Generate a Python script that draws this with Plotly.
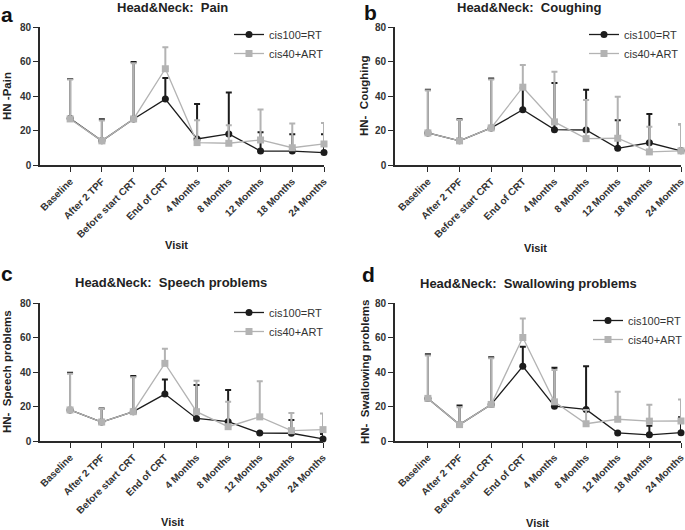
import plotly.graph_objects as go

visits = ["Baseline", "After 2 TPF", "Before start CRT", "End of CRT", "4 Months",
          "8 Months", "12 Months", "18 Months", "24 Months"]
series_names = ["cis100=RT", "cis40+ART"]

# Panel a: Pain
pain_rt = [27, 14, 26.7, 38.2, 15.1, 18, 8.1, 8.1, 7.2]
pain_rt_upper = [49.8, 26.5, 59.7, 50.4, 35.4, 42, 19, 17.8, 17.8]
pain_art = [26.7, 14, 26.7, 55.8, 13, 12.6, 14.5, 10, 12.2]
pain_art_upper = [49.5, 25.8, 59, 68.2, 26, 23, 32.2, 24, 24.4]

# Panel b: Coughing
cough_rt = [18.6, 14, 21.5, 32, 20.5, 20.3, 9.7, 12.9, 8.2]
cough_rt_upper = [43.6, 26.5, 50.2, 44.5, 47.6, 43.6, 26, 29.6, 23.6]
cough_art = [18.6, 14, 21.5, 45.1, 25, 15.3, 15.5, 7.6, 8.2]
cough_art_upper = [43.2, 26.1, 49.6, 57.9, 54, 37.7, 39.6, 22.2, 23.8]

# Panel c: Speech problems
speech_rt = [18, 11, 17, 27.2, 13.1, 11.2, 4.6, 4.5, 1.2]
speech_rt_upper = [39.6, 18.9, 37.7, 35.7, 32.5, 29.6, 4.6, 12.2, 4]
speech_art = [18, 11, 17, 45, 17, 8.3, 14, 6, 6.6]
speech_art_upper = [39, 18.5, 37, 53.5, 35, 22.8, 34.6, 16.2, 16]

# Panel d: Swallowing problems
swallow_rt = [24.7, 9.5, 21.2, 43.3, 20.2, 18.3, 4.7, 3.6, 4.8]
swallow_rt_upper = [50.3, 20.6, 48.5, 54.6, 42.5, 43.3, 4.7, 8.9, 13.7]
swallow_art = [24.7, 9.5, 21.2, 60, 22.7, 10, 12.6, 11.5, 11.6]
swallow_art_upper = [49.5, 19.5, 48, 71, 41.2, 18, 28.5, 21, 24]

panel_letters = ["a", "b", "c", "d"]
panel_titles = ["Head&Neck:  Pain", "Head&Neck:  Coughing",
                "Head&Neck:  Speech problems", "Head&Neck:  Swallowing problems"]
y_titles = ["HN -Pain", "HN-  Coughing", "HN-  Speech problems", "HN-  Swallowing problems"]
x_title = "Visit"
y_ticks = [0, 20, 40, 60, 80]

panels = [
    (pain_rt, pain_rt_upper, pain_art, pain_art_upper),
    (cough_rt, cough_rt_upper, cough_art, cough_art_upper),
    (speech_rt, speech_rt_upper, speech_art, speech_art_upper),
    (swallow_rt, swallow_rt_upper, swallow_art, swallow_art_upper),
]

W, H = 685, 530
BLACK = "#1c1c1c"
GRAY = "#b3b3b3"
AXC = "#2a2a2a"
FONT = "Liberation Sans, Arial, sans-serif"

# pixel layout per panel: (x_left, x_right, y_top, y_bottom, xrange_start)
geom = [
    (40, 324, 27, 165, -0.95),
    (395, 681, 27, 165, -1.04),
    (40, 323, 303, 441, -0.95),
    (395, 681, 303, 441, -1.04),
]
legend_pos = [(229, 20), (584, 20), (229, 298), (588, 306)]
letter_pos = [(7, 15), (370, 13), (7, 273), (368, 274)]
title_pos = [(172, 8), (529, 8), (171, 282), (528, 283)]
ytitle_pos = [(7, 96), (364, 96), (7, 372), (365, 372)]
xtitle_pos = [(176, 245), (535, 248), (172, 522), (537, 523)]


def px(x):
    return x / W


def py(y):
    return 1 - y / H


fig = go.Figure()
annotations = []
for i, (rt, rt_up, art, art_up) in enumerate(panels):
    n = i + 1
    xa = "x" if n == 1 else f"x{n}"
    ya = "y" if n == 1 else f"y{n}"
    leg = "legend" if n == 1 else f"legend{n}"
    for vals, ups, name, color, sym in [
        (rt, rt_up, series_names[0], BLACK, "circle"),
        (art, art_up, series_names[1], GRAY, "square"),
    ]:
        fig.add_trace(go.Scatter(
            x=visits, y=vals, name=name, mode="lines+markers",
            line=dict(color=color, width=1.3),
            marker=dict(color=color, size=7, symbol=sym),
            error_y=dict(type="data", symmetric=False,
                         array=[u - v for u, v in zip(ups, vals)],
                         arrayminus=[0] * len(vals),
                         color=color, thickness=2, width=3),
            xaxis=xa, yaxis=ya, legend=leg, cliponaxis=False,
        ))
    xl, xr, yt, yb, x0 = geom[i]
    axis_common = dict(showline=True, linecolor=AXC, linewidth=1.6, ticks="outside",
                       tickcolor=AXC, tickwidth=1.4, ticklen=5, showgrid=False, zeroline=False,
                       automargin=False,
                       tickfont=dict(family=FONT, size=10, color="#333333", weight="bold"))
    fig.layout[f"xaxis{'' if n == 1 else n}"] = dict(
        domain=[px(xl), px(xr)], range=[x0, 8], anchor=ya, tickangle=-45,
        type="category", **axis_common)
    fig.layout[f"yaxis{'' if n == 1 else n}"] = dict(
        domain=[py(yb), py(yt)], range=[0, 80], anchor=xa, tickvals=y_ticks,
        **axis_common)
    lx, ly = legend_pos[i]
    fig.layout[leg] = dict(x=px(lx), y=py(ly), xanchor="left", yanchor="top",
                           bgcolor="rgba(0,0,0,0)", tracegroupgap=0,
                           font=dict(family=FONT, size=11, color="#333333"))
    ann_common = dict(xref="paper", yref="paper", showarrow=False,
                      xanchor="center", yanchor="middle")
    annotations.append(dict(text=panel_letters[i], x=px(letter_pos[i][0]), y=py(letter_pos[i][1]),
                            font=dict(family=FONT, size=21, color="#111111", weight="bold"),
                            **ann_common))
    annotations.append(dict(text=panel_titles[i], x=px(title_pos[i][0]), y=py(title_pos[i][1]),
                            font=dict(family=FONT, size=13, color="#222222", weight="bold"),
                            **ann_common))
    annotations.append(dict(text=y_titles[i], x=px(ytitle_pos[i][0]), y=py(ytitle_pos[i][1]),
                            textangle=-90,
                            font=dict(family=FONT, size=11.5, color="#222222", weight="bold"),
                            **ann_common))
    annotations.append(dict(text=x_title, x=px(xtitle_pos[i][0]), y=py(xtitle_pos[i][1]),
                            font=dict(family=FONT, size=11, color="#222222", weight="bold"),
                            **ann_common))

fig.update_layout(
    template="none",
    width=W, height=H, margin=dict(l=0, r=0, t=0, b=0, autoexpand=False),
    paper_bgcolor="white", plot_bgcolor="white",
    annotations=annotations, font=dict(family=FONT),
)
fig.write_html("out.html", config={"displayModeBar": False},
               post_script="document.body.style.margin='0';document.body.style.overflow='hidden';")
